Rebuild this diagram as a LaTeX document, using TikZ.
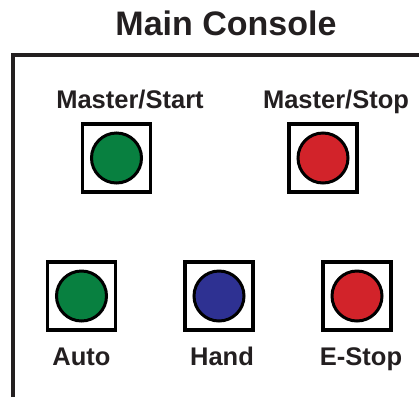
\documentclass[tikz,border=0pt]{standalone}
\usepackage{fontspec}
\setmainfont{Liberation Sans}
\usepackage{tikz}

\definecolor{inkgray}{RGB}{35,31,32}
\definecolor{lampgreen}{RGB}{8,128,64}
\definecolor{lampred}{RGB}{210,35,42}
\definecolor{lampblue}{RGB}{46,49,146}

\begin{document}
\begin{tikzpicture}[
    x=1pt, y=1pt,
    panel/.style={line width=4pt, draw=inkgray},
    btnbox/.style={draw=black, fill=white, rectangle, line width=3.5pt,
      minimum size=68pt, inner sep=0pt},
    lamp/.style={draw=black, circle, line width=3pt, minimum size=50pt,
      inner sep=0pt},
    lbl/.style={text=inkgray, font=\bfseries\fontsize{25.5}{25.5}\selectfont,
      anchor=base, inner sep=0pt},
    title/.style={text=inkgray, font=\bfseries\fontsize{34}{34}\selectfont,
      anchor=base, inner sep=0pt}
    ]
    \useasboundingbox (0,0) rectangle (419,-397);

    \node[title] (head) at (226,-35) {Main Console};

    % Panel
    \draw[panel] (13,-397) -- (13,-55) -- (419,-55);

    % Buttons
    \node[btnbox] (mstart) at (116.5,-158) {};
    \node[btnbox] (mstop)  at (323,-158) {};
    \node[btnbox] (auto)   at (81.5,-296) {};
    \node[btnbox] (hand)   at (219,-296) {};
    \node[btnbox] (estop)  at (357,-296) {};

    \foreach \bt/\col in {mstart/lampgreen, mstop/lampred, auto/lampgreen,
                          hand/lampblue, estop/lampred}
        \node[lamp, fill=\col] (\bt-lamp) at (\bt) {};

    % Labels
    \node[lbl] (mstart-lbl) at (130,-108) {Master/Start};
    \node[lbl] (mstop-lbl)  at (336,-108) {Master/Stop};
    \node[lbl] (auto-lbl)   at (81.5,-365) {Auto};
    \node[lbl] (hand-lbl)   at (222,-365) {Hand};
    \node[lbl] (estop-lbl)  at (361,-365) {E-Stop};
\end{tikzpicture}
\end{document}
